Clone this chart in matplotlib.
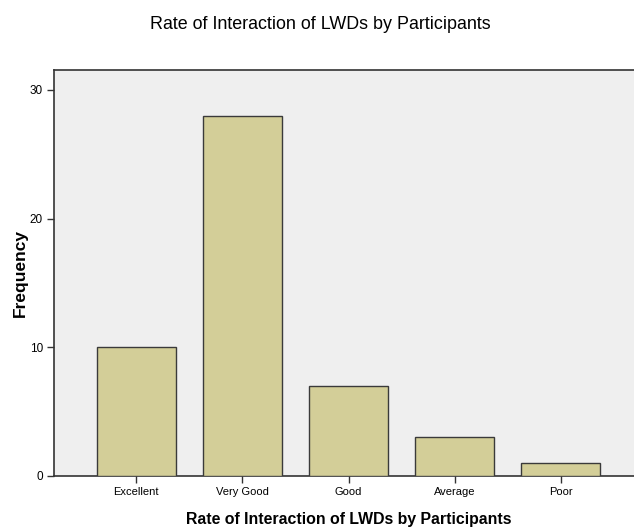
import matplotlib
matplotlib.use('Agg')
import matplotlib.pyplot as plt
import numpy as np

categories = ['Excellent', 'Very Good', 'Good', 'Average', 'Poor']
frequency = [10, 28, 7, 3, 1]
yticks = [0, 10, 20, 30]

title = 'Rate of Interaction of LWDs by Participants'

plt.rcParams['font.family'] = ['Liberation Sans', 'DejaVu Sans']

fig = plt.figure(figsize=(6.34, 5.28), dpi=100)
# plot area runs past the right edge, as in the reference
ax = fig.add_axes([54/634, 52/528, 589/634, 406/528])
ax.set_facecolor('#efefef')

x = np.arange(len(categories))
ax.bar(x, frequency, width=0.75, color='#d3ce98', edgecolor='#3a3a3a', linewidth=1.0, zorder=3)

ax.set_xlim(-0.776, len(categories) - 1 + 0.776)
ax.set_ylim(0, 31.55)
ax.set_xticks(x)
ax.set_xticklabels(categories, fontsize=8)
ax.set_yticks(yticks)
ax.set_yticklabels([str(t) for t in yticks], fontsize=8.5)
ax.tick_params(axis='both', direction='out', length=5, width=1, color='#333333', pad=3)

for side in ['left', 'top', 'right', 'bottom']:
    ax.spines[side].set_color('#333333')
    ax.spines[side].set_linewidth(1.2)

# labels placed in figure pixels to match the reference
fig.text(20/634, 1 - 273/528, 'Frequency', rotation=90, ha='center', va='center',
         fontsize=12.5, fontweight='bold')
fig.text(348.5/634, 1 - 524/528, title, ha='center', va='baseline', fontsize=11.4, fontweight='bold')
fig.text(320.5/634, 1 - 29/528, title, ha='center', va='baseline', fontsize=12.9)

fig.savefig('out.png', dpi=100)
